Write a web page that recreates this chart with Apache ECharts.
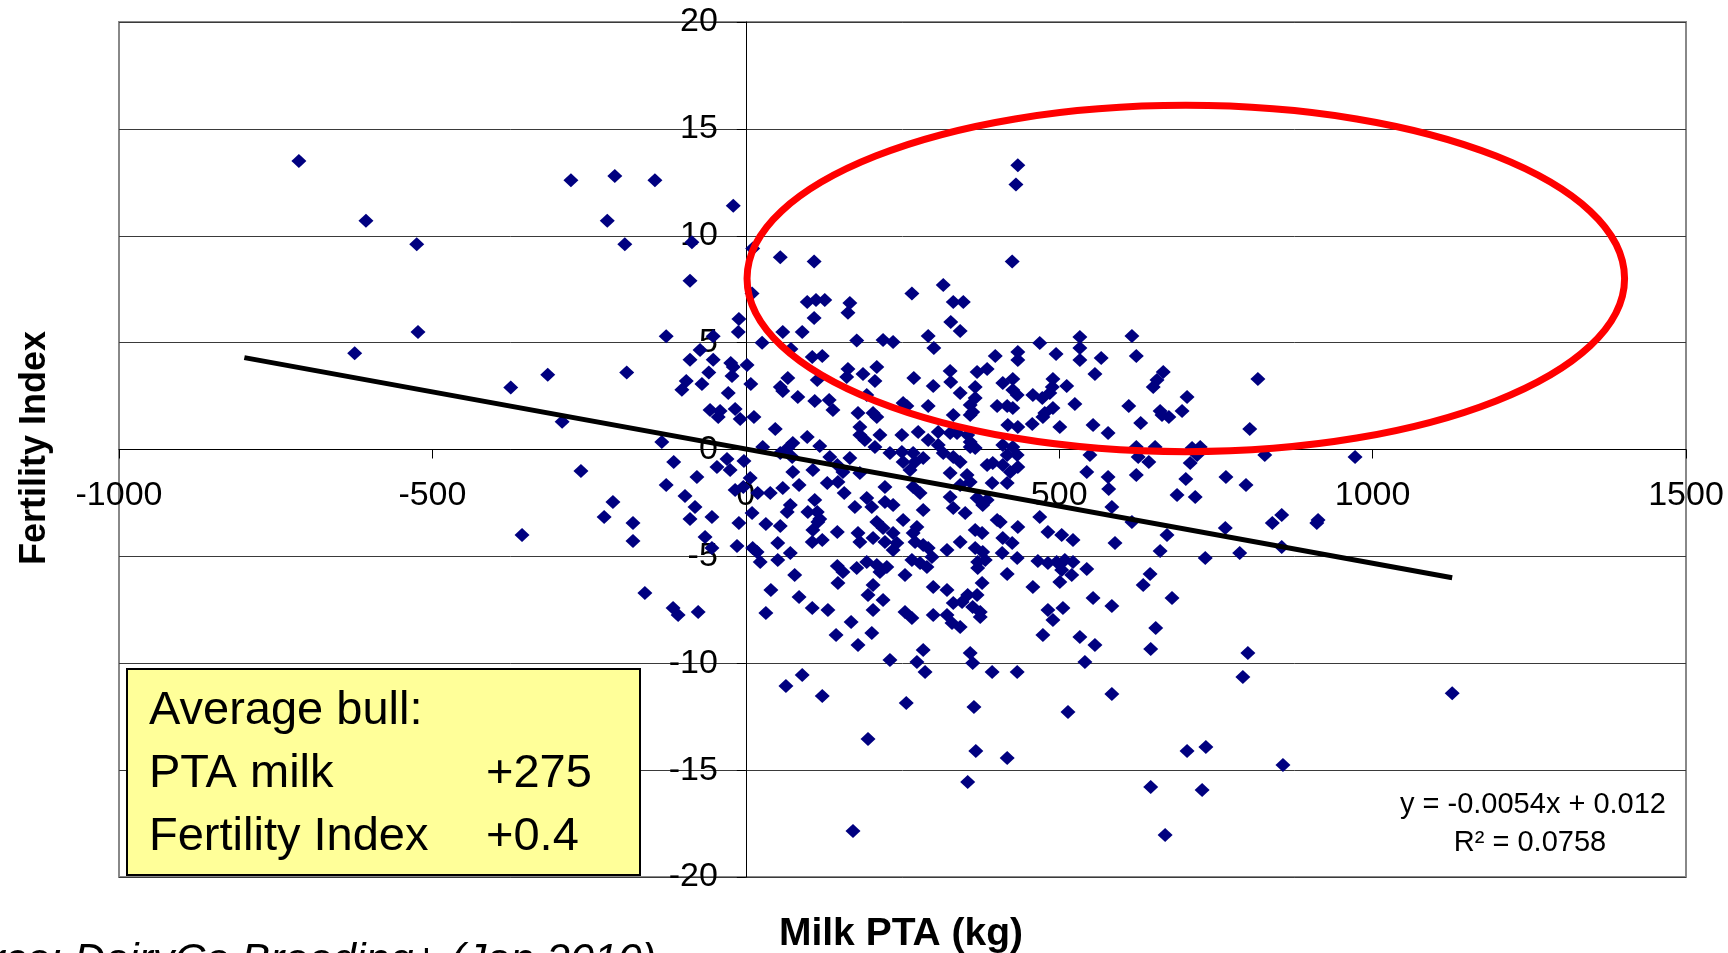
<!DOCTYPE html>
<html lang="en">
<head>
<meta charset="UTF-8">
<title>Milk PTA vs Fertility Index</title>
<script src="https://cdn.jsdelivr.net/npm/echarts@6/dist/echarts.min.js"></script>
<style>body{margin:0;background:#fff;}</style>
</head>
<body>
<div id="main" style="width:1728px;height:953px;"></div>
<script>

// bulls: [milk PTA kg, fertility index]
var bulls = [
 [-713,13.5],[-606,10.7],[-525,9.6],[-523,5.5],[-624,4.5],[-375,2.9],[-316,3.5],[-293,1.3],[-263,-1.0],[-357,-4.0],
 [-279,12.6],[-209,12.8],[-145,12.6],[-221,10.7],[-193,9.6],[-20,11.4],[-86,9.7],[55,9.0],[109,8.8],[11,9.4],
 [431,12.4],[434,13.3],[425,8.8],[1127,-11.4],
 [-89,7.9],[10,7.3],[98,6.9],[112,7.0],[126,7.0],[166,6.85],[163,6.4],[-11,6.1],[-12,5.5],[109,6.15],
 [59,5.5],[90,5.5],[-127,5.3],[-52,5.3],[26,5.0],[-73,4.65],[72,4.7],[177,5.1],[-89,4.2],[-52,4.2],
 [-24,4.05],[2,3.95],[-20,3.86],[106,4.33],[122,4.37],[-190,3.6],[-59,3.6],[-95,3.2],[-102,2.8],[-70,3.06],
 [-22,3.44],[8,3.06],[67,3.34],[55,2.92],[59,2.74],[163,3.77],[161,3.39],[114,3.25],[-28,2.64],[83,2.46],
 [110,2.27],[133,2.32],[139,1.85],[-57,1.85],[-41,1.8],[-17,1.89],[-9,1.43],[-44,1.52],[13,1.52],[47,0.96],
 [179,1.71],[-134,0.35],[98,0.58],[75,0.3],[67,0.07],[118,0.16],[27,0.12],[-115,-0.58],[-30,-0.44],[-3,-0.54],
 [-46,-0.82],[-25,-0.96],[55,-0.16],[74,-0.35],[134,-0.35],[146,-0.73],[166,-0.4],[155,-1.05],[-78,-1.29],[75,-1.05],
 [107,-0.96],[7,-1.33],
 [265,7.3],[315,7.7],[331,6.9],[347,6.9],[327,5.96],[342,5.54],[219,5.12],[235,5.03],[291,5.31],[300,4.75],
 [469,4.98],[533,5.26],[533,4.75],[398,4.37],[434,4.56],[434,4.19],[495,4.47],[533,4.19],[567,4.28],[209,3.86],
 [187,3.53],[206,3.2],[268,3.34],[326,3.67],[327,3.16],[369,3.63],[385,3.77],[557,3.53],[299,2.97],[410,3.11],
 [426,3.3],[426,2.78],[433,2.55],[490,3.3],[489,2.92],[512,2.97],[485,2.64],[342,2.64],[366,2.92],[366,2.41],
 [193,2.55],[458,2.55],[473,2.41],[525,2.13],[251,2.18],[257,2.03],[291,2.03],[358,2.08],[362,1.75],[358,1.61],
 [401,2.03],[417,2.03],[426,1.94],[490,1.94],[477,1.71],[474,1.52],[203,1.71],[209,1.52],[331,1.61],[182,1.05],
 [418,1.15],[434,1.05],[457,1.19],[501,1.05],[554,1.15],[578,0.77],[275,0.82],[249,0.68],[307,0.82],[291,0.44],
 [326,0.77],[337,0.77],[354,0.68],[358,0.35],[182,0.68],[190,0.44],[214,0.68],[206,0.12],[307,0.21],[315,-0.16],
 [410,0.21],[426,0.12],[433,-0.26],[417,-0.26],[358,0.12],[366,0.07],[230,-0.16],[249,-0.12],[267,-0.16],[251,-0.58],
 [270,-0.58],[283,-0.4],[331,-0.35],[342,-0.58],[549,-0.26],[385,-0.73],[394,-0.63],[410,-0.73],[422,-1.05],[434,-0.82],
 [262,-0.96],[326,-1.1],[353,-1.19],[544,-1.05],[578,-1.29],[182,-1.1],
 [616,5.31],[623,4.37],[666,3.63],[656,3.25],[650,2.92],[817,3.3],[704,2.46],[611,2.03],[661,1.8],[664,1.61],
 [675,1.52],[696,1.8],[630,1.24],[804,0.96],[623,0.12],[626,-0.35],[643,-0.58],[653,0.12],[712,0.07],[725,0.12],
 [720,-0.26],[709,-0.63],[828,-0.26],[972,-0.35],[623,-1.19],[766,-1.29],[702,-1.38],
 [-127,-1.66],[-212,-2.46],[-226,-3.16],[-97,-2.18],[-81,-2.69],[-89,-3.25],[-54,-3.16],[-180,-3.44],[-180,-4.28],[-65,-4.09],
 [-54,-4.61],[-17,-1.89],[-4,-1.75],[-14,-4.51],[-11,-3.44],[10,-2.97],[19,-2.03],[39,-2.03],[59,-1.8],[85,-1.66],
 [71,-2.6],[66,-2.92],[32,-3.49],[55,-3.58],[110,-2.36],[99,-2.92],[114,-2.92],[115,-3.39],[107,-3.77],[118,-3.25],
 [157,-2.03],[130,-1.57],[147,-1.52],[174,-2.69],[146,-3.86],[179,-3.91],[51,-4.37],[106,-4.33],[122,-4.23],[11,-4.61],
 [18,-4.8],[23,-5.26],[51,-5.17],[71,-4.84],[146,-5.45],[155,-5.73],[147,-6.25],[177,-5.54],[78,-5.87],[40,-6.57],
 [85,-6.9],[-161,-6.71],[-116,-7.41],[-108,-7.74],[-76,-7.6],[32,-7.65],[106,-7.41],[131,-7.51],[168,-8.07],[144,-8.68],
 [179,-9.15],[90,-10.55],
 [222,-1.75],[267,-1.75],[278,-2.03],[342,-1.66],[358,-1.52],[393,-1.57],[417,-1.57],[193,-2.27],[201,-2.69],[222,-2.46],
 [235,-2.6],[326,-2.22],[331,-2.74],[350,-2.97],[369,-2.27],[378,-2.6],[385,-2.36],[283,-2.83],[209,-3.39],[219,-3.67],
 [235,-3.91],[251,-3.3],[273,-3.63],[267,-3.91],[366,-3.77],[377,-3.91],[401,-3.3],[406,-3.39],[434,-3.63],[469,-3.16],
 [482,-3.86],[504,-4.0],[522,-4.23],[579,-1.85],[584,-2.69],[589,-4.37],[182,-4.33],[203,-4.14],[222,-4.33],[241,-4.37],
 [235,-4.7],[270,-4.33],[283,-4.47],[291,-4.61],[342,-4.33],[410,-4.14],[425,-4.37],[366,-4.61],[378,-4.8],[409,-4.84],
 [433,-5.08],[321,-4.7],[297,-5.03],[193,-5.26],[209,-5.4],[214,-5.73],[225,-5.5],[265,-5.17],[278,-5.31],[289,-5.5],
 [254,-5.87],[370,-5.26],[382,-5.17],[370,-5.54],[417,-5.82],[466,-5.22],[482,-5.31],[496,-5.26],[509,-5.17],[522,-5.26],
 [504,-5.64],[520,-5.87],[501,-6.2],[544,-5.59],[203,-6.34],[195,-6.81],[219,-7.04],[299,-6.43],[321,-6.57],[377,-6.25],
 [369,-6.81],[354,-6.81],[458,-6.43],[331,-7.18],[345,-7.13],[362,-7.37],[374,-7.6],[374,-7.84],[203,-7.51],[254,-7.6],
 [265,-7.88],[299,-7.74],[321,-7.74],[329,-8.12],[342,-8.3],[482,-7.51],[506,-7.41],[490,-7.98],[554,-6.95],[584,-7.32],
 [201,-8.58],[474,-8.68],[533,-8.77],[557,-9.15],[283,-9.38],[273,-9.94],[286,-10.41],[358,-9.52],[362,-9.99],[230,-9.85],
 [393,-10.41],[433,-10.41],[541,-9.94],
 [798,-1.66],[688,-2.13],[717,-2.22],[616,-3.39],[840,-3.44],[855,-3.06],[913,-3.3],[911,-3.44],[765,-3.67],[672,-4.0],
 [661,-4.75],[855,-4.56],[733,-5.08],[788,-4.84],[645,-5.82],[634,-6.34],[680,-6.95],[654,-8.35],[646,-9.33],[801,-9.52],
 [793,-10.64],
 [64,-11.06],[122,-11.53],[256,-11.86],[364,-12.05],[195,-13.54],[367,-14.1],[354,-15.55],[171,-17.85],
 [417,-14.43],[514,-12.28],[584,-11.44],[704,-14.1],[734,-13.92],[857,-14.76],[646,-15.79],[728,-15.93],[669,-18.03]
];

var trendLine = [[-800, 4.3], [1127, -6.0]];   // linear fit end points
var highlightCentre = [[702, 8.0]];             // red ellipse centre
var highlightRadius = [700, 8.1];               // half width (kg), half height (index)

var boxLines = [['Average bull:', ''], ['PTA milk', '+275'], ['Fertility Index', '+0.4']];
var equationText = 'y = -0.0054x + 0.012';
var r2Text = 'R\u00B2 = 0.0758';

var font = 'Liberation Sans, Arial, Helvetica, sans-serif';
var myChart = echarts.init(document.getElementById('main'));

// plot box in pixels
var gridLeft = 119, gridTop = 22, gridW = 1567, gridH = 855;
// where the zero lines sit (labels follow the crossing axes)
var zeroX = gridLeft + gridW * 1000 / 2500;
var zeroY = gridTop + gridH / 2;

var graphics = [
    {type: 'rect', z: 10, shape: {x: 127, y: 669, width: 513, height: 206},
     style: {fill: '#ffff99', stroke: '#000', lineWidth: 2}}
];
boxLines.forEach(function (l, i) {
    var y = 711 + i * 63;
    graphics.push({type: 'text', z: 11, x: 149, y: y,
        style: {text: l[0], fontSize: 47, fontFamily: font, fill: '#000',
                align: 'left', verticalAlign: 'middle', textAlign: 'left', textVerticalAlign: 'middle'}});
    if (l[1]) {
        graphics.push({type: 'text', z: 11, x: 486, y: y,
            style: {text: l[1], fontSize: 47, fontFamily: font, fill: '#000',
                    align: 'left', verticalAlign: 'middle', textAlign: 'left', textVerticalAlign: 'middle'}});
    }
});
graphics.push(
    {type: 'text', z: 11, x: 1666, y: 805,
     style: {text: equationText, fontSize: 29, fontFamily: font, fill: '#000',
             align: 'right', verticalAlign: 'middle', textAlign: 'right', textVerticalAlign: 'middle'}},
    {type: 'text', z: 11, x: 1530, y: 843,
     style: {text: r2Text, fontSize: 29, fontFamily: font, fill: '#000',
             align: 'center', verticalAlign: 'middle', textAlign: 'center', textVerticalAlign: 'middle'}},
    {type: 'text', z: 11, x: 35, y: 448, rotation: Math.PI / 2,
     style: {text: 'Fertility Index', fontSize: 36, fontWeight: 'bold', fontFamily: font, fill: '#000',
             align: 'center', verticalAlign: 'middle', textAlign: 'center', textVerticalAlign: 'middle'}},
    {type: 'text', z: 11, x: 901, y: 934,
     style: {text: 'Milk PTA (kg)', fontSize: 39, fontWeight: 'bold', fontFamily: font, fill: '#000',
             align: 'center', verticalAlign: 'middle', textAlign: 'center', textVerticalAlign: 'middle'}},
    {type: 'text', z: 11, x: 656, y: 961,
     style: {text: 'Source: DairyCo Breeding+ (Jan 2010)', fontSize: 43, fontStyle: 'italic', fontFamily: font, fill: '#000',
             align: 'right', verticalAlign: 'middle', textAlign: 'right', textVerticalAlign: 'middle'}}
);

function plain(v) { return String(v); }

var option = {
    animation: false,
    backgroundColor: '#fff',
    grid: {
        left: gridLeft, top: gridTop, width: gridW, height: gridH,
        show: true, borderColor: '#888', borderWidth: 2, backgroundColor: '#fff'
    },
    xAxis: {
        type: 'value', min: -1000, max: 1500, interval: 500,
        axisLine: {onZero: true, lineStyle: {color: '#000', width: 1}},
        axisTick: {show: true, length: 9, lineStyle: {color: '#000', width: 1}},
        // labels hang below the zero line
        axisLabel: {margin: (zeroY + 29) - (gridTop + gridH), color: '#000', fontSize: 34,
                    fontFamily: font, formatter: plain, hideOverlap: false},
        splitLine: {show: false}
    },
    yAxis: {
        type: 'value', min: -20, max: 20, interval: 5,
        axisLine: {onZero: true, lineStyle: {color: '#000', width: 1}},
        axisTick: {show: true, length: 9, lineStyle: {color: '#000', width: 1}},
        axisLabel: {margin: gridLeft - (zeroX - 28), color: '#000', fontSize: 34,
                    fontFamily: font, formatter: plain, hideOverlap: false},
        splitLine: {show: true, lineStyle: {color: '#3a3a3a', width: 1}}
    },
    series: [
        {
            name: 'bulls',
            type: 'scatter',
            data: bulls,
            symbol: 'diamond',
            symbolSize: [15, 14],
            itemStyle: {color: '#000080', opacity: 1},
            z: 2
        },
        {
            name: 'trend',
            type: 'line',
            data: trendLine,
            symbol: 'none',
            lineStyle: {color: '#000', width: 5},
            z: 3
        },
        {
            name: 'highlight',
            type: 'custom',
            data: highlightCentre,
            z: 4,
            renderItem: function (params, api) {
                var c = api.coord([api.value(0), api.value(1)]);
                var s = api.size(highlightRadius);
                return {
                    type: 'ellipse',
                    shape: {cx: c[0], cy: c[1], rx: s[0], ry: s[1]},
                    style: {fill: 'none', stroke: '#ff0000', lineWidth: 7}
                };
            }
        }
    ],
    graphic: graphics
};

myChart.setOption(option);
</script>
</body>
</html>
